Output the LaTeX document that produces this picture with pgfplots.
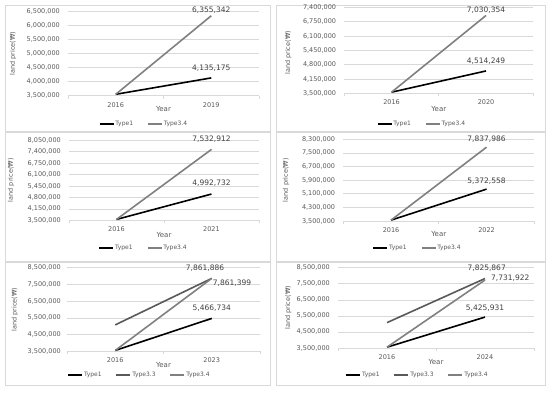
\documentclass[border=0pt]{standalone}
\usepackage{fontspec}
\setmainfont{DejaVu Sans}
\usepackage{pgfplots}
\pgfplotsset{compat=1.18}
\definecolor{gridc}{HTML}{D9D9D9}
\definecolor{txt}{HTML}{595959}
\definecolor{lbl}{HTML}{404040}
\definecolor{tA}{HTML}{000000}
\definecolor{tB}{HTML}{595959}
\definecolor{tC}{HTML}{808080}
\tikzset{dl/.style={font=\fontsize{7.5}{8}\selectfont, text=lbl, inner sep=0pt}}
\pgfplotsset{
  panel/.style={
    scale only axis, anchor=south west, clip=false,
    xmin=-0.5, xmax=1.5, xtick={0,1},
    minor xtick={-0.5,0.5,1.5},
    tick align=outside, major tick length=0pt, minor tick length=3pt,
    minor tick style={draw=gridc, line width=0.6pt},
    separate axis lines, axis x line*=bottom, axis y line*=left,
    x axis line style={draw=gridc, line width=0.6pt, -},
    y axis line style={draw=none},
    ymajorgrids, major grid style={draw=gridc, line width=0.6pt},
    scaled y ticks=false,
    /pgf/number format/assume math mode=true,
    yticklabel style={/pgf/number format/fixed, /pgf/number format/precision=0,
      /pgf/number format/1000 sep={,}, anchor=east, inner sep=0pt, xshift=-8pt,
      font=\fontsize{6.5}{7}\selectfont, text=txt},
    xticklabel style={anchor=north, inner sep=0pt, yshift=-6.5pt,
      font=\fontsize{6.5}{7}\selectfont, text=txt},
    xlabel={Year}, ylabel={land price(₩)},
    xlabel style={font=\fontsize{7}{8}\selectfont, text=txt, anchor=center, inner sep=0pt},
    ylabel style={font=\fontsize{6.5}{7}\selectfont, text=txt, anchor=center, inner sep=0pt},
    legend columns=-1,
    legend style={draw=none, fill=none, font=\fontsize{6}{7}\selectfont, text=txt,
      anchor=center, inner sep=0pt, nodes={inner sep=1pt},
      /tikz/every even column/.append style={column sep=13pt}},
    legend image code/.code={\draw[#1, line width=1.7pt] (0pt,0pt) -- (14pt,0pt);},
  },
  every axis plot/.append style={line width=1.6pt, mark=none},
}
\begin{document}
\begin{tikzpicture}
\useasboundingbox (0,0) rectangle (550pt,392pt);
\draw[gridc, line width=0.6pt] (5pt,261pt) rectangle (270pt,387pt);
\draw[gridc, line width=0.6pt] (276pt,261pt) rectangle (545pt,387pt);
\draw[gridc, line width=0.6pt] (5pt,131pt) rectangle (270pt,260pt);
\draw[gridc, line width=0.6pt] (276pt,131pt) rectangle (545pt,260pt);
\draw[gridc, line width=0.6pt] (5pt,7pt) rectangle (270pt,130pt);
\draw[gridc, line width=0.6pt] (276pt,7pt) rectangle (545pt,130pt);

% Panel 1
\begin{axis}[panel, at={(68pt,296.3pt)}, width=191pt, height=84pt,
  ymin=3500000, ymax=6500000, ytick={3500000,4000000,4500000,5000000,5500000,6000000,6500000},
  xticklabels={2016,2019},
  xlabel style={at={(axis description cs:0.5,-0.158)}},
  ylabel style={at={(axis description cs:-0.288,0.5)}},
  legend style={at={(axis description cs:0.395,-0.337)}}]
\addplot[tA] coordinates {(0,3550000) (1,4135175)};
\addplot[tC] coordinates {(0,3550000) (1,6355342)};
\legend{Type1,Type3.4}
\node[dl, anchor=south, yshift=2pt] at (axis cs:1,6355342) {6,355,342};
\node[dl, anchor=south, yshift=6pt] at (axis cs:1,4135175) {4,135,175};
\end{axis}

% Panel 2
\begin{axis}[panel, at={(344.3pt,298.7pt)}, width=189pt, height=86pt,
  ymin=3500000, ymax=7400000, ytick={3500000,4150000,4800000,5450000,6100000,6750000,7400000},
  xticklabels={2016,2020},
  xlabel style={at={(axis description cs:0.5,-0.183)}},
  ylabel style={at={(axis description cs:-0.296,0.47)}},
  legend style={at={(axis description cs:0.408,-0.357)}}]
\addplot[tA] coordinates {(0,3550000) (1,4514249)};
\addplot[tC] coordinates {(0,3550000) (1,7030354)};
\legend{Type1,Type3.4}
\node[dl, anchor=south, yshift=1.5pt] at (axis cs:1,7030354) {7,030,354};
\node[dl, anchor=south, yshift=6pt] at (axis cs:1,4514249) {4,514,249};
\end{axis}

% Panel 3
\begin{axis}[panel, at={(69pt,171.7pt)}, width=190pt, height=80pt,
  ymin=3500000, ymax=8050000, ytick={3500000,4150000,4800000,5450000,6100000,6750000,7400000,8050000},
  xticklabels={2016,2021},
  xlabel style={at={(axis description cs:0.5,-0.1875)}},
  ylabel style={at={(axis description cs:-0.305,0.5)}},
  legend style={at={(axis description cs:0.39,-0.35)}}]
\addplot[tA] coordinates {(0,3550000) (1,4992732)};
\addplot[tC] coordinates {(0,3550000) (1,7532912)};
\legend{Type1,Type3.4}
\node[dl, anchor=south, yshift=6.4pt] at (axis cs:1,7532912) {7,532,912};
\node[dl, anchor=south, yshift=7pt] at (axis cs:1,4992732) {4,992,732};
\end{axis}

% Panel 4
\begin{axis}[panel, at={(343.3pt,171pt)}, width=191pt, height=81.7pt,
  ymin=3500000, ymax=8300000, ytick={3500000,4300000,5100000,5900000,6700000,7500000,8300000},
  xticklabels={2016,2022},
  xlabel style={at={(axis description cs:0.5,-0.155)}},
  ylabel style={at={(axis description cs:-0.30,0.5)}},
  legend style={at={(axis description cs:0.386,-0.334)}}]
\addplot[tA] coordinates {(0,3550000) (1,5372558)};
\addplot[tC] coordinates {(0,3550000) (1,7837986)};
\legend{Type1,Type3.4}
\node[dl, anchor=south, yshift=5pt] at (axis cs:1,7837986) {7,837,986};
\node[dl, anchor=south, yshift=4.7pt] at (axis cs:1,5372558) {5,372,558};
\end{axis}

% Panel 5
\begin{axis}[panel, at={(67pt,40.7pt)}, width=193pt, height=83.6pt,
  ymin=3500000, ymax=8500000, ytick={3500000,4500000,5500000,6500000,7500000,8500000},
  yticklabel style={xshift=2pt},
  xticklabels={2016,2023},
  xlabel style={at={(axis description cs:0.5,-0.16)}},
  ylabel style={at={(axis description cs:-0.27,0.5)}},
  legend style={at={(axis description cs:0.373,-0.287)}}]
\addplot[tA] coordinates {(0,3550000) (1,5466734)};
\addplot[tB] coordinates {(0,5080000) (1,7861886)};
\addplot[tC] coordinates {(0,3550000) (1,7861399)};
\legend{Type1,Type3.3,Type3.4}
\node[dl, anchor=south, yshift=6.5pt, xshift=-6.7pt] at (axis cs:1,7861886) {7,861,886};
\node[dl, anchor=west, yshift=-5.2pt, xshift=1pt] at (axis cs:1,7861399) {7,861,399};
\node[dl, anchor=south, yshift=7pt] at (axis cs:1,5466734) {5,466,734};
\end{axis}

% Panel 6
\begin{axis}[panel, at={(338pt,44pt)}, width=196pt, height=80.3pt,
  ymin=3500000, ymax=8500000, ytick={3500000,4500000,5500000,6500000,7500000,8500000},
  xticklabels={2016,2024},
  xlabel style={at={(axis description cs:0.5,-0.174)}},
  ylabel style={at={(axis description cs:-0.254,0.5)}},
  legend style={at={(axis description cs:0.403,-0.332)}}]
\addplot[tA] coordinates {(0,3550000) (1,5425931)};
\addplot[tB] coordinates {(0,5080000) (1,7825867)};
\addplot[tC] coordinates {(0,3550000) (1,7731922)};
\legend{Type1,Type3.3,Type3.4}
\node[dl, anchor=south, yshift=7pt, xshift=1.7pt] at (axis cs:1,7825867) {7,825,867};
\node[dl, anchor=west, yshift=2.3pt, xshift=6pt] at (axis cs:1,7731922) {7,731,922};
\node[dl, anchor=south, yshift=5.7pt] at (axis cs:1,5425931) {5,425,931};
\end{axis}
\end{tikzpicture}
\end{document}
